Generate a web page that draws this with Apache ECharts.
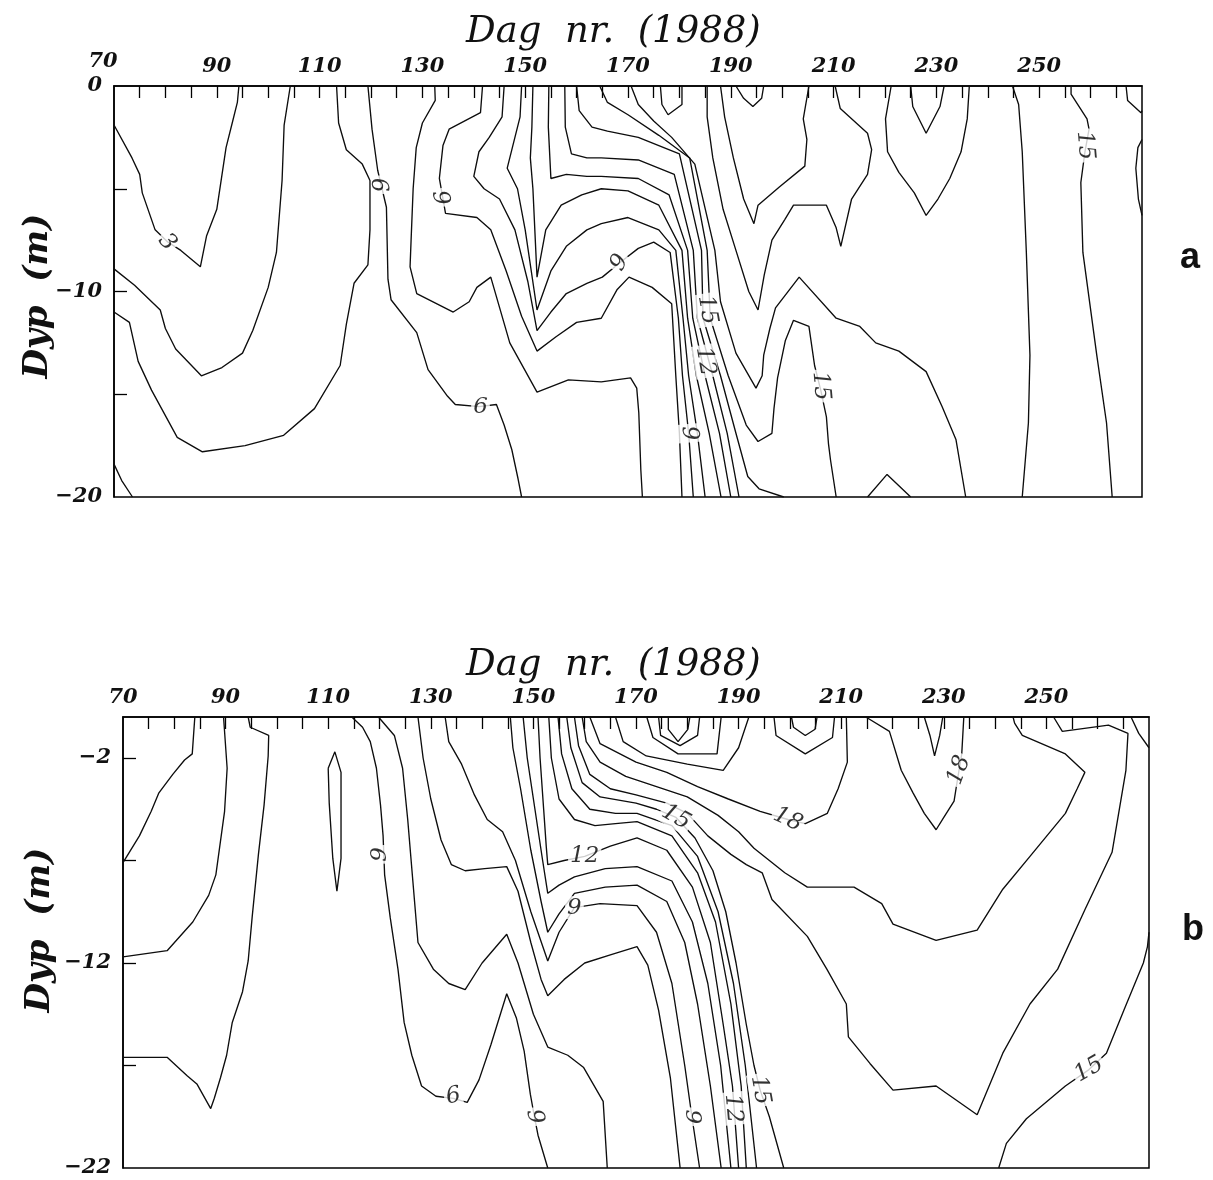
<!DOCTYPE html>
<html><head><meta charset="utf-8">
<script src="https://cdn.jsdelivr.net/npm/echarts@6/dist/echarts.min.js"></script>
<style>html,body{margin:0;padding:0;background:#fff}#c{width:1213px;height:1180px}</style>
</head><body><div id="c"></div>
<script>
// ---------- axes ----------
const dayMinorTicks = [75,80,85,90,95,100,105,110,115,120,125,130,135,140,145,150,155,160,165,170,175,180,185,190,195,200,205,210,215,220,225,230,235,240,245,250,255,260,265];
const dayTickLabelsA = [90,110,130,150,170,190,210,230,250];
const dayTickLabelsB = [70,90,110,130,150,170,190,210,230,250];
const depthTicksA = [-5,-10,-15];
const depthLabelsA = [0,-10,-20];
const depthTicksB = [-2,-7,-12,-17];
const depthLabelsB = [-2,-12,-22];

// ---------- panel a contours (day, depth) ----------
const a_c3 = [[70,-1.9],[73.5,-3.5],[75,-4.3],[75.5,-5.2],[78,-7],[80.5,-7.6],[83,-8],[86.8,-8.8],[88,-7.3],[90,-6],[91.8,-3],[93,-1.8],[94,-0.8],[94.3,0]];
const a_c4 = [[70,-8.9],[74,-9.7],[79,-10.9],[80,-11.8],[82,-12.8],[87,-14.1],[91,-13.7],[95,-13],[97,-11.9],[100,-9.8],[101.6,-8.1],[102.7,-4.6],[103.1,-1.9],[104.3,0]];
const a_c5 = [[70,-11],[73,-11.5],[74.7,-13.4],[77.3,-14.8],[82.3,-17.1],[87.2,-17.8],[95.5,-17.5],[103,-17],[109,-15.7],[114,-13.6],[115.2,-11.6],[116.7,-9.6],[119.4,-8.7],[119.8,-7],[119.8,-4.6],[118.3,-3.8],[115.2,-3.1],[113.7,-1.8],[113.3,0]];
const a_corner = [[70,-18.4],[71.5,-19.2],[73.6,-20]];
const a_c6 = [[119.4,0],[120.2,-2.1],[121.3,-4.1],[123,-5.9],[123.3,-9.4],[123.9,-10.4],[128.9,-12],[131.1,-13.8],[134.9,-15.1],[136.4,-15.5],[141,-15.6],[144.4,-15.5],[145.9,-16.5],[147.4,-17.7],[148.6,-19.1],[149.3,-20]];
const a_c7 = [[132.4,0],[132.5,-0.7],[130,-1.8],[128.8,-3],[128.2,-5],[127.8,-7.5],[127.6,-8.8],[128.9,-10.1],[136,-11],[139.1,-10.5],[140.6,-9.8],[143.3,-9.3],[147,-12.5],[152.3,-14.9],[158.4,-14.3],[164.8,-14.4],[170.5,-14.2],[171.7,-14.7],[172.1,-15.9],[172.5,-18.7],[172.8,-20]];
const a_c8 = [[141.7,0],[141.3,-1.3],[135.2,-2.1],[134,-2.9],[133.3,-4.5],[134.5,-6.2],[140.6,-6.4],[143.3,-7],[146.3,-9],[149.3,-11.2],[152.3,-12.9],[156,-12.2],[160,-11.5],[164.8,-11.3],[167.9,-9.9],[170.2,-9.3],[174.7,-9.8],[178.5,-10.6],[179.3,-14.1],[180,-16.9],[180.5,-20]];
const a_c9 = [[145.9,0],[145.5,-1.5],[143,-2.5],[141,-3.2],[140,-4.4],[142,-5],[145,-5.5],[148,-7],[150.5,-9.5],[152.3,-11.9],[155,-11],[158,-10.1],[162,-9.6],[165,-9.3],[168.4,-8.6],[172,-7.9],[175,-7.6],[178.2,-8.1],[179.8,-11.3],[180.6,-14.1],[181.8,-16.9],[182.7,-20]];
const a_c10 = [[149.3,0],[149,-1.5],[147.5,-3],[146.5,-4],[148.5,-5],[150,-7],[152.3,-10.9],[155,-9],[158,-7.8],[162,-7],[164.8,-6.7],[170,-6.4],[176,-7],[179.3,-8],[180.7,-11.3],[181.8,-14.1],[183.5,-16.9],[185,-20]];
const a_c11 = [[151.5,0],[151.3,-2],[151,-3.5],[151.5,-5],[152.3,-9.3],[154,-7],[157,-5.8],[161,-5.3],[164.8,-5],[170,-5.1],[176,-5.8],[180.5,-8],[181.6,-11.3],[183.3,-14.1],[185.8,-16.9],[188.1,-20]];
const a_c12 = [[154.6,0],[154.5,-2],[155,-4.5],[158,-4.3],[162,-4.4],[164.8,-4.4],[172,-4.5],[178,-5.3],[181.6,-8],[182.6,-11.3],[185,-14.1],[187.8,-16.9],[190,-20]];
const a_c13 = [[157.7,0],[157.8,-2],[159,-3.3],[162,-3.5],[164.8,-3.5],[172,-3.6],[179,-4.3],[182.7,-8],[183.5,-11.3],[186.5,-14.1],[189.3,-16.9],[191.6,-20]];
const a_c14 = [[160,0],[160.5,-1.2],[163,-2],[166,-2.2],[172,-2.5],[180,-3.3],[184.3,-8],[184.6,-11.3],[188,-14.1],[191,-16.9],[193.3,-19],[195.5,-19.6],[200.3,-20]];
const a_c15 = [[164.5,0],[166,-0.8],[170,-1.4],[176,-2.4],[182,-3.5],[185.4,-8],[186,-11.3],[189.5,-14.1],[193,-16.5],[195.3,-17.3],[198,-16.9],[198.4,-15.7],[199.1,-14.2],[200.6,-12.4],[202.2,-11.4],[205.2,-11.7],[206.3,-13.6],[207.5,-14.8],[208.6,-16.1],[209,-17.4],[209.4,-18.2],[210.5,-20]];
const a_c16 = [[170.6,0],[172,-0.9],[175,-1.7],[178.5,-2.5],[183,-3.8],[186.9,-8],[188,-10.5],[191,-13],[194.9,-14.7],[196.1,-14.1],[196.4,-13.1],[197.6,-11.8],[198.7,-10.8],[203.3,-9.3],[210.5,-11.3],[215.1,-11.7],[218.2,-12.5],[222.7,-12.9],[228,-13.9],[231.1,-15.6],[233.8,-17.2],[235.7,-20]];
const a_c17 = [[185.4,0],[185.4,-1.5],[186.5,-3.5],[188.5,-6],[191,-8],[193.5,-10],[195.3,-10.9],[196.5,-9.2],[198,-7.5],[200.5,-6.5],[202.2,-5.8],[208.6,-5.8],[210.5,-6.9],[211.4,-7.8],[213.5,-5.5],[216.6,-4.3],[217.4,-3.1],[216.6,-2.3],[211.3,-1.1],[210.3,0]];
const a_c18 = [[188,0],[188.8,-1.5],[190.5,-3.5],[192.5,-5.5],[194.5,-6.7],[195.3,-5.8],[199.5,-4.9],[204.4,-3.9],[204.8,-2.6],[204.1,-1.6],[205.2,0]];
const a_u1 = [[176.3,0],[176.6,-0.9],[177.8,-1.4],[180.5,-0.9],[180.5,0]];
const a_v1 = [[191,0],[192.5,-0.6],[194.3,-1],[196,-0.6],[196.4,0]];
const a_v2 = [[221.2,0],[220.1,-1.6],[220.5,-3.2],[222.7,-4.2],[225.7,-5.2],[228,-6.3],[230.3,-5.5],[232.6,-4.5],[234.8,-3.2],[236,-1.6],[236.4,0]];
const a_v3 = [[225,0],[225.4,-1],[228,-2.3],[230.7,-1],[231.5,0]];
const a_long = [[244.8,0],[246,-0.9],[246.7,-3.2],[247.5,-8.1],[248.2,-13.1],[247.9,-16.4],[246.7,-20]];
const a_r15 = [[256.2,0],[256.2,-0.4],[259.3,-1.6],[259.7,-2.1],[258.9,-3.2],[258.1,-4.7],[258.5,-8.1],[261.2,-13.1],[263.1,-16.4],[264.2,-20]];
const a_edge1 = [[266.9,0],[267.2,-0.7],[269.8,-1.3],[270,-1.2]];
const a_edge2 = [[270,-2.6],[269.2,-3],[268.8,-4],[269.3,-5.5],[270,-6.3]];
const a_hump = [[216.6,-20],[220.4,-18.9],[225,-20]];
const a_lines = [a_c3,a_c4,a_c5,a_corner,a_c6,a_c7,a_c8,a_c9,a_c10,a_c11,a_c12,a_c13,a_c14,a_c15,a_c16,a_c17,a_c18,a_u1,a_v1,a_v2,a_v3,a_long,a_r15,a_edge1,a_edge2,a_hump];
const a_labels = [[80.3,-7.6,'3'],[122.3,-4.8,'9'],[134.3,-5.4,'6'],[141.3,-15.6,'6'],[168.4,-8.6,'9'],[185.4,-10.9,'15'],[185,-13.4,'12'],[181.9,-16.9,'9'],[207.5,-14.6,'15'],[258.9,-2.9,'15']];
const a_labelRot = [-50,95,100,0,60,-80,-80,-85,-85,-85];

// ---------- panel b contours ----------
const b_c3 = [[84,0],[83.5,-1.8],[82,-2.1],[79.7,-2.8],[77,-3.7],[75.5,-4.6],[73.2,-5.8],[70,-7.1]];
const b_c4 = [[89.6,0],[90.3,-2.5],[89.8,-4.6],[88.1,-7.7],[86.7,-8.7],[83.6,-10],[78.6,-11.4],[70,-11.7]];
const b_c5 = [[94.4,0],[94.8,-0.5],[98.4,-0.9],[98.3,-1.9],[97.5,-4.3],[96.4,-6.7],[95.2,-9.7],[94.4,-11.9],[93.3,-13.4],[91.3,-14.9],[90.2,-16.5],[89,-17.6],[87.8,-18.6],[87.1,-19.1],[84.4,-17.9],[82.5,-17.5],[78.6,-16.6],[70,-16.6]];
const b_loop = [[110,-2.5],[111.3,-1.7],[112.5,-2.7],[112.5,-6.9],[111.7,-8.5],[110.9,-6.9],[110.2,-4.2],[110,-2.5]];
const b_c6 = [[114.6,0],[116.7,-0.5],[118.2,-1.2],[119.4,-2.5],[120.2,-4.3],[120.7,-5.8],[121,-7.7],[122.1,-9.8],[123.6,-12.3],[124.8,-14.9],[126.3,-16.5],[128.2,-18],[131,-18.5],[134.4,-18.6],[137.1,-18.8],[139.4,-17.7],[141.7,-16],[144.8,-13.5],[146.7,-14.7],[148.2,-16.3],[149.4,-18.4],[150.2,-19.5],[150.9,-20.4],[152.8,-22]];
const b_c7 = [[119.8,0],[122.9,-0.9],[124.5,-2.5],[125.5,-5],[126.5,-8],[127.5,-11],[130.5,-12.3],[133.5,-13],[136.7,-13.3],[140,-12],[144.8,-10.6],[147,-12],[150,-14.5],[152.8,-16.1],[156.7,-16.5],[159.8,-17.1],[163.6,-18.75],[164.4,-22]];
const b_c8 = [[127.5,0],[128.5,-2],[130,-4],[132,-6],[134,-7.2],[136.7,-7.5],[140.5,-7.4],[144.8,-7.3],[147,-8.5],[149.5,-11],[151.5,-12.8],[152.8,-13.6],[156,-12.8],[160,-12],[165,-11.6],[170.2,-11.2],[172.3,-12.1],[174.4,-14.3],[176.7,-17.6],[178.6,-22]];
const b_c9 = [[132.8,0],[133.5,-1.2],[136,-2.3],[138.5,-3.8],[141,-5],[144,-5.6],[146.5,-7],[149.5,-9.5],[152.8,-11.9],[155,-10.5],[158,-9.3],[163,-9.1],[170.2,-9.2],[174,-10.5],[177,-13],[179.5,-17],[180.9,-19.5],[182.4,-22]];
const b_c10 = [[145.5,0],[146,-1.5],[147.5,-3.5],[149.5,-6.5],[151.5,-9],[152.8,-10.5],[155,-9.6],[158,-8.6],[164,-8.3],[170.2,-8.2],[176,-9],[179.5,-11],[182,-14],[184.5,-18],[186.6,-22]];
const b_c11 = [[148,0],[148.8,-2],[150.3,-4.5],[151.8,-7],[152.8,-8.6],[155,-8.2],[158,-7.8],[164,-7.4],[170.2,-7.3],[177,-8],[181,-10],[184,-13],[186.5,-17],[188.5,-22]];
const b_c12 = [[150.9,0],[151.3,-2],[152,-4.5],[152.5,-6.3],[152.8,-7.2],[156,-7],[160,-6.8],[165,-6.3],[170.2,-5.9],[176,-6.5],[181,-8.3],[184.5,-11],[187,-15],[188.8,-18],[190,-22]];
const b_c13 = [[153,0],[153.5,-2],[155,-4],[158,-5],[162,-5.3],[166,-5.2],[170.2,-5.1],[177,-5.8],[182,-7.6],[185.5,-10],[188.5,-14],[190.5,-18],[191.5,-22]];
const b_c14 = [[154.8,0],[155.5,-1.8],[157.5,-3.5],[161,-4.5],[166,-4.7],[170.2,-4.7],[177,-5.3],[182,-6.8],[186,-9.5],[189,-13],[191.3,-17],[193.5,-22]];
const b_c15 = [[156.5,0],[157.3,-1.5],[159.5,-3.2],[163,-3.9],[170,-4.2],[174,-4.5],[177.8,-4.9],[181.5,-5.9],[185,-7.5],[187.5,-9.5],[189.5,-12],[191.5,-15],[193,-17],[194.2,-18.2],[196,-19.5],[198.8,-22]];
const b_c16 = [[158,0],[158.8,-1.4],[161,-2.8],[165,-3.5],[170,-3.8],[176,-4.2],[180,-4.7],[184,-5.8],[188.5,-6.7],[191.5,-7.2],[194.6,-7.6],[196.5,-8.9],[203.4,-10.7],[207.2,-12.3],[211,-14],[211.4,-15.6],[215.6,-16.9],[220.1,-18.2],[228.5,-18],[236.5,-19.4],[241.5,-16.4],[246.8,-14],[252.2,-12.3],[257.5,-9.4],[262.8,-6.6],[265.5,-2.6],[265.9,-0.8],[262.1,-0.4],[253.1,-0.7],[251.4,0]];
const b_c17 = [[159.5,0],[160.3,-1.2],[163,-2.2],[168,-2.9],[174,-3.4],[180,-3.9],[186,-4.8],[190,-5.6],[193,-6.4],[196,-7],[199,-7.6],[203.4,-8.3],[212.5,-8.3],[217.9,-9.1],[220.1,-10.1],[228.5,-10.9],[236.5,-10.4],[241.5,-8.4],[246.8,-6.8],[253.7,-4.7],[256,-3.5],[257.5,-2.7],[253.7,-1.8],[245.3,-0.9],[243.8,-0.3],[243.5,0]];
const b_c18 = [[161,0],[163,-1.3],[170,-2.2],[176,-2.7],[182,-3.4],[188,-4],[194.2,-4.6],[199.6,-5],[203,-5.2],[207.3,-4.7],[209.4,-3.5],[211.2,-2.2],[211,0]];
const b_u0 = [[166,0],[167.5,-1.2],[172,-1.9],[180,-2.3],[187,-2.6],[190,-1.5],[192,0]];
const b_u1 = [[176.3,0],[176.3,-0.6],[178.2,-1.2],[180.1,-0.6],[180.5,0]];
const b_u2 = [[174.4,0],[174.8,-0.9],[178.6,-1.4],[182,-0.9],[182.4,0]];
const b_u3 = [[172.1,0],[173.3,-1],[178.2,-1.8],[185.8,-1.8],[186.6,0]];
const b_u4 = [[196.9,0],[197.3,-0.9],[203,-1.8],[208.3,-1],[208.7,0]];
const b_u5 = [[200.3,0],[200.7,-0.5],[203,-0.9],[204.9,-0.6],[205.3,0]];
const b_v18 = [[214.8,0],[219.4,-0.7],[221.7,-2.6],[224,-3.7],[226.2,-4.7],[228.5,-5.5],[230,-4.9],[232,-4.1],[232.7,-3],[233.5,-1.8],[233.9,0]];
const b_v2 = [[226.2,0],[227.3,-0.9],[228.2,-1.9],[229.2,-0.9],[229.8,0]];
const b_r15 = [[270,-10.5],[269.7,-11.2],[268.9,-12],[265.1,-14.3],[261.7,-16.4],[258.3,-17.2],[253.7,-18],[246.1,-19.6],[242.2,-20.8],[240.7,-22]];
const b_edge = [[266.5,0],[268,-0.8],[270,-1.5]];
const b_lines = [b_c3,b_c4,b_c5,b_loop,b_c6,b_c7,b_c8,b_c9,b_c10,b_c11,b_c12,b_c13,b_c14,b_c15,b_c16,b_c17,b_c18,b_u0,b_u1,b_u2,b_u3,b_u4,b_u5,b_v18,b_v2,b_r15,b_edge];
const b_labels = [[120.2,-6.7,'9'],[134.4,-18.5,'6'],[150.2,-19.5,'9'],[158,-9.3,'9'],[160,-6.8,'12'],[177.8,-4.9,'15'],[199.6,-5,'18'],[233,-2.6,'18'],[180.9,-19.5,'9'],[188.9,-19.1,'12'],[194.2,-18.2,'15'],[258.3,-17.2,'15']];
const b_labelRot = [90,10,-80,0,0,-30,-25,70,-90,-85,-80,30];

// ---------- build ----------
const serif = 'DejaVu Serif';
const minus = v => String(v).replace('-', '\u2212');
function xAxisDef(gi, labels){
  return {gridIndex:gi,type:'value',position:'top',min:70,max:270,
    axisLine:{show:true,lineStyle:{color:'#000',width:1.5}},
    axisTick:{show:true,inside:true,length:12,lineStyle:{color:'#000',width:1.3},customValues:dayMinorTicks},
    axisLabel:{show:true,customValues:labels,fontFamily:serif,fontStyle:'italic',fontWeight:'bold',fontSize:21,color:'#111',margin:9},
    splitLine:{show:false}};
}
function yAxisDef(gi,min,ticks,labels){
  return {gridIndex:gi,type:'value',min:min,max:0,
    axisLine:{show:true,lineStyle:{color:'#000',width:1.5}},
    axisTick:{show:true,inside:true,length:13,lineStyle:{color:'#000',width:1.3},customValues:ticks},
    axisLabel:{show:true,customValues:labels,formatter:minus,fontFamily:serif,fontStyle:'italic',fontWeight:'bold',fontSize:21,color:'#111',margin:12},
    splitLine:{show:false}};
}
const series = [];
function addLines(arr, gi){
  arr.forEach(d => series.push({type:'line',xAxisIndex:gi,yAxisIndex:gi,data:d,showSymbol:false,symbol:'none',
    lineStyle:{color:'#0d0d0d',width:1.35},silent:true,animation:false,z:2}));
}
function addLabels(arr, rots, gi){
  series.push({type:'scatter',xAxisIndex:gi,yAxisIndex:gi,symbolSize:0,silent:true,animation:false,z:5,
    data:arr.map((p,i)=>({value:[p[0],p[1]],label:{show:true,formatter:p[2],rotate:rots[i],position:'inside',
      fontFamily:serif,fontStyle:'italic',fontSize:23,color:'#000',backgroundColor:'#fff',padding:[0,2]}}))});
}
addLines(a_lines,0); addLines(b_lines,1);
addLabels(a_labels,a_labelRot,0); addLabels(b_labels,b_labelRot,1);

const chart = echarts.init(document.getElementById('c'), null, {renderer:'canvas'});
chart.setOption({
  backgroundColor:'#fff', animation:false,
  grid:[{left:114,top:86,width:1028,height:411,show:true,borderColor:'#000',borderWidth:1.5,backgroundColor:'transparent'},
        {left:123,top:717,width:1026,height:451,show:true,borderColor:'#000',borderWidth:1.5,backgroundColor:'transparent'}],
  xAxis:[xAxisDef(0,dayTickLabelsA),xAxisDef(1,dayTickLabelsB)],
  yAxis:[yAxisDef(0,-20,depthTicksA,depthLabelsA),yAxisDef(1,-22,depthTicksB,depthLabelsB)],
  series:series,
  graphic:[
    {type:'text',left:466,top:14,style:{text:'Dag  nr.  (1988)',font:'italic 37px "DejaVu Serif"',fill:'#111'}},
    {type:'text',left:466,top:647,style:{text:'Dag  nr.  (1988)',font:'italic 37px "DejaVu Serif"',fill:'#111'}},
    {type:'text',x:103,y:62,style:{text:'70',font:'italic bold 21px "DejaVu Serif"',fill:'#111',align:'center',verticalAlign:'middle'}},
    {type:'text',x:38,y:296,rotation:Math.PI/2,style:{text:'Dyp  (m)',font:'italic bold 34px "DejaVu Serif"',fill:'#111',align:'center',verticalAlign:'middle'}},
    {type:'text',x:40,y:930,rotation:Math.PI/2,style:{text:'Dyp  (m)',font:'italic bold 34px "DejaVu Serif"',fill:'#111',align:'center',verticalAlign:'middle'}},
    {type:'text',x:1190,y:258,style:{text:'a',font:'bold 36px "Liberation Sans"',fill:'#111',align:'center',verticalAlign:'middle'}},
    {type:'text',x:1193,y:930,style:{text:'b',font:'bold 36px "Liberation Sans"',fill:'#111',align:'center',verticalAlign:'middle'}}
  ]
});
</script></body></html>
